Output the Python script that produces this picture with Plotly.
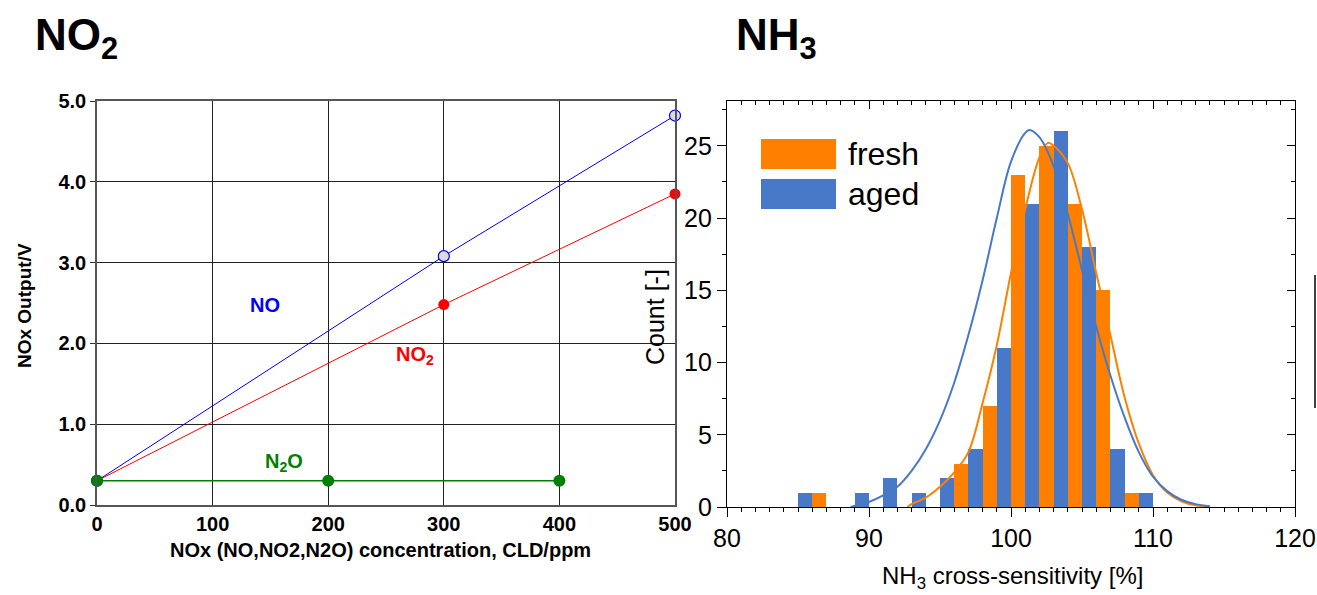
import plotly.graph_objects as go

W, H = 1317, 595

# ---------------- Left chart data (NOx sensor output) ----------------
no_conc = [0, 300, 500]
no_volt = [0.30, 3.08, 4.82]
no2_conc = [0, 300, 500]
no2_volt = [0.30, 2.48, 3.85]
n2o_conc = [0, 200, 400]
n2o_volt = [0.30, 0.30, 0.30]

# ---------------- Right chart data (NH3 histogram) ----------------
bin_centers = [86, 88, 90, 92, 94, 96, 98, 100, 102, 104, 106, 108, 110]
fresh_counts = [1, 0, 0, 0, 0, 3, 7, 23, 25, 21, 15, 1, 0]
aged_counts = [1, 0, 1, 2, 1, 2, 4, 11, 21, 26, 18, 4, 1]

# fitted curves
aged_fit_x = [88.7, 90, 91, 92, 93, 94, 95, 96, 97, 98, 99, 100, 101, 101.3, 102,
              103, 104, 105, 106, 107, 108, 109, 110, 111, 112, 113, 114]
aged_fit_y = [0.0, 0.35, 0.8, 1.4, 2.5, 4.0, 6.0, 8.6, 11.9, 15.7, 20.0, 23.9, 25.9, 26.1, 25.6,
              23.6, 20.3, 16.4, 12.5, 9.1, 6.2, 3.8, 2.1, 1.1, 0.5, 0.2, 0.05]
fresh_fit_x = [92.7, 93, 94, 95, 96, 97, 98, 99, 100, 101, 102, 102.6, 103, 104, 105,
               106, 107, 108, 109, 110, 111, 112, 113, 114]
fresh_fit_y = [0.0, 0.2, 0.65, 1.4, 2.4, 3.8, 7.2, 11.2, 16.2, 20.6, 24.2, 25.2, 25.0, 23.8, 20.6,
               16.2, 11.9, 7.6, 4.4, 2.2, 1.0, 0.4, 0.12, 0.03]

ORANGE = "#FF8000"
BLUE = "#4878C8"
BOLD_FONT = "Liberation Sans, Arial, sans-serif"
REG_FONT = "Liberation Sans, Arial, sans-serif"


def px(x):
    return x / W


def py(y):
    return 1 - y / H


fig = go.Figure()

# ---- left chart traces ----
fig.add_trace(go.Scatter(x=no_conc, y=no_volt, mode="lines+markers",
                         line=dict(color="#0000FF", width=1),
                         marker=dict(size=11, color="#DCDCDC", line=dict(color="#0000FF", width=1.2)),
                         xaxis="x", yaxis="y", cliponaxis=False, showlegend=False))
fig.add_trace(go.Scatter(x=no2_conc, y=no2_volt, mode="lines+markers",
                         line=dict(color="#FF0000", width=1),
                         marker=dict(size=11, color="#FF0000"),
                         xaxis="x", yaxis="y", cliponaxis=False, showlegend=False))
fig.add_trace(go.Scatter(x=n2o_conc, y=n2o_volt, mode="lines+markers",
                         line=dict(color="#008000", width=1.5),
                         marker=dict(size=12, color="#008000"),
                         xaxis="x", yaxis="y", cliponaxis=False, showlegend=False))

# ---- right chart traces ----
fig.add_trace(go.Bar(x=bin_centers, y=aged_counts, name="aged", marker=dict(color=BLUE, line=dict(width=0)),
                     xaxis="x2", yaxis="y2", showlegend=False))
fig.add_trace(go.Bar(x=bin_centers, y=fresh_counts, name="fresh", marker=dict(color=ORANGE, line=dict(width=0)),
                     xaxis="x2", yaxis="y2", showlegend=False))
fig.add_trace(go.Scatter(x=fresh_fit_x, y=fresh_fit_y, mode="lines", line=dict(color=ORANGE, width=2, shape="spline"),
                         xaxis="x2", yaxis="y2", showlegend=False))
fig.add_trace(go.Scatter(x=aged_fit_x, y=aged_fit_y, mode="lines", line=dict(color=BLUE, width=2, shape="spline"),
                         xaxis="x2", yaxis="y2", showlegend=False))
# empty traces to activate mirror axes
fig.add_trace(go.Scatter(x=[], y=[], xaxis="x3", yaxis="y2", showlegend=False))
fig.add_trace(go.Scatter(x=[], y=[], xaxis="x2", yaxis="y3", showlegend=False))

left_dom_x = [px(97), px(675)]
left_dom_y = [py(505), py(101)]
right_dom_x = [px(727), px(1295)]
right_dom_y = [py(507), py(101)]

bold_tick = dict(family=BOLD_FONT, size=20, color="black", weight="bold")
reg_tick = dict(family=REG_FONT, size=25, color="black")

fig.update_layout(
    width=W, height=H,
    margin=dict(l=0, r=0, t=0, b=0, autoexpand=False),
    paper_bgcolor="white", plot_bgcolor="white",
    barmode="group", bargap=0, bargroupgap=0,
    showlegend=False,
    xaxis=dict(domain=left_dom_x, anchor="y", range=[0, 500], tickvals=[0, 100, 200, 300, 400, 500],
               ticktext=["0", "100", "200", "300", "400", "500"], automargin=False,
               showgrid=True, gridcolor="#222222", gridwidth=1, zeroline=False,
               showline=True, linecolor="#555555", linewidth=1.5, mirror=True,
               ticks="", tickfont=bold_tick),
    yaxis=dict(domain=left_dom_y, anchor="x", range=[0, 5], tickvals=[0, 1, 2, 3, 4, 5],
               ticktext=["0.0", "1.0", "2.0", "3.0", "4.0", "5.0"], automargin=False,
               showgrid=True, gridcolor="#222222", gridwidth=1, zeroline=False,
               showline=True, linecolor="#555555", linewidth=1.5, mirror=True,
               ticks="outside", ticklen=5, tickcolor="#333333", tickfont=bold_tick),
    xaxis2=dict(domain=right_dom_x, anchor="y2", range=[80, 120], tickvals=[80, 90, 100, 110, 120],
                automargin=False,
                showgrid=False, zeroline=False, showline=True, linecolor="black", linewidth=1.2,
                ticks="outside", ticklen=9, tickwidth=1.2, tickcolor="black", tickfont=reg_tick,
                minor=dict(dtick=1, ticks="outside", ticklen=4, tickcolor="black", showgrid=False)),
    yaxis2=dict(domain=right_dom_y, anchor="x2", range=[0, 28.1], tickvals=[0, 5, 10, 15, 20, 25],
                automargin=False,
                showgrid=False, zeroline=False, showline=True, linecolor="black", linewidth=1.2,
                ticks="outside", ticklen=9, tickwidth=1.2, tickcolor="black", tickfont=reg_tick,
                minor=dict(dtick=2.5, tick0=0, ticks="outside", ticklen=4, tickcolor="black", showgrid=False)),
    xaxis3=dict(overlaying="x2", anchor="y2", side="top", range=[80, 120], tickvals=[80, 90, 100, 110, 120],
                automargin=False,
                showgrid=False, zeroline=False, showline=True, linecolor="black", linewidth=1.2,
                ticks="inside", ticklen=8, tickwidth=1.2, tickcolor="black", showticklabels=False,
                minor=dict(dtick=1, ticks="inside", ticklen=4, tickcolor="black", showgrid=False)),
    yaxis3=dict(overlaying="y2", anchor="x2", side="right", range=[0, 28.1], tickvals=[0, 5, 10, 15, 20, 25],
                automargin=False,
                showgrid=False, zeroline=False, showline=True, linecolor="black", linewidth=1.2,
                ticks="inside", ticklen=8, tickwidth=1.2, tickcolor="black", showticklabels=False,
                minor=dict(dtick=2.5, tick0=0, ticks="inside", ticklen=4, tickcolor="black", showgrid=False)),
)

annotations = [
    # panel titles
    dict(x=px(33), y=py(8), xref="paper", yref="paper", xanchor="left", yanchor="top",
         text="<b>NO<sub>2</sub></b>", showarrow=False,
         font=dict(family=BOLD_FONT, size=44, color="black")),
    dict(x=px(734), y=py(8), xref="paper", yref="paper", xanchor="left", yanchor="top",
         text="<b>NH<sub>3</sub></b>", showarrow=False,
         font=dict(family=BOLD_FONT, size=44, color="black")),
    # left axis titles
    dict(x=px(25), y=py(306), xref="paper", yref="paper", xanchor="center", yanchor="middle",
         text="<b>NOx Output/V</b>", textangle=-90, showarrow=False,
         font=dict(family=BOLD_FONT, size=19, color="black")),
    dict(x=px(380), y=py(550), xref="paper", yref="paper", xanchor="center", yanchor="middle",
         text="<b>NOx (NO,NO2,N2O) concentration, CLD/ppm</b>", showarrow=False,
         font=dict(family=BOLD_FONT, size=20, color="black")),
    # right axis titles
    dict(x=px(655), y=py(317), xref="paper", yref="paper", xanchor="center", yanchor="middle",
         text="Count [-]", textangle=-90, showarrow=False,
         font=dict(family=REG_FONT, size=25, color="black")),
    dict(x=px(1012), y=py(595), xref="paper", yref="paper", xanchor="center", yanchor="bottom",
         text="NH<sub>3</sub> cross-sensitivity [%]", showarrow=False,
         font=dict(family=REG_FONT, size=24, color="black")),
    # series labels on left chart
    dict(x=145, y=2.47, xref="x", yref="y", text="<b>NO</b>", showarrow=False,
         font=dict(family=BOLD_FONT, size=20, color="#0000FF")),
    dict(x=275, y=1.85, xref="x", yref="y", text="<b>NO<sub>2</sub></b>", showarrow=False,
         font=dict(family=BOLD_FONT, size=20, color="#FF0000")),
    dict(x=162, y=0.52, xref="x", yref="y", text="<b>N<sub>2</sub>O</b>", showarrow=False,
         font=dict(family=BOLD_FONT, size=20, color="#008000")),
    # legend texts
    dict(x=px(846), y=py(154), xref="paper", yref="paper", xanchor="left", yanchor="middle",
         text="fresh", showarrow=False, font=dict(family=REG_FONT, size=32, color="black")),
    dict(x=px(846), y=py(194), xref="paper", yref="paper", xanchor="left", yanchor="middle",
         text="aged", showarrow=False, font=dict(family=REG_FONT, size=32, color="black")),
]
fig.update_layout(annotations=annotations)

shapes = [
    # legend swatches
    dict(type="rect", xref="paper", yref="paper", x0=px(761), x1=px(836), y0=py(169), y1=py(139),
         fillcolor=ORANGE, line=dict(width=0)),
    dict(type="rect", xref="paper", yref="paper", x0=px(761), x1=px(836), y0=py(209), y1=py(179),
         fillcolor=BLUE, line=dict(width=0)),
    # cropped fragment at right edge
    dict(type="line", xref="paper", yref="paper", x0=px(1315), x1=px(1315), y0=py(275), y1=py(408),
         line=dict(color="black", width=1.5)),
]
fig.update_layout(shapes=shapes)

page_css = ("document.documentElement.style.margin='0';document.documentElement.style.overflow='hidden';"
            "document.body.style.margin='0';document.body.style.overflow='hidden';")
fig.write_html("out.html", post_script=page_css, config={"displayModeBar": False})
